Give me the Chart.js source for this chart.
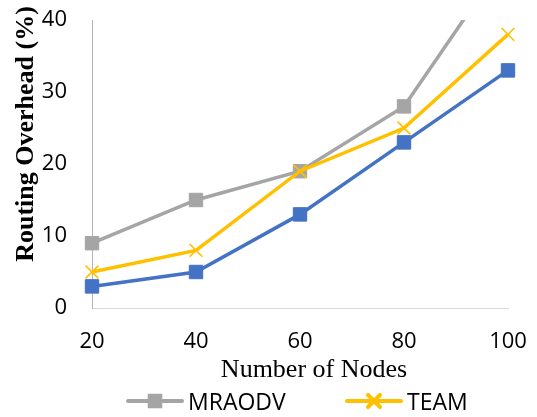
<!DOCTYPE html>
<html>
<head>
<meta charset="utf-8">
<script src="https://cdn.jsdelivr.net/npm/chart.js@4"></script>
<style>
  html, body { margin: 0; padding: 0; background: #ffffff; }
  #wrap { width: 537px; height: 417px; }
</style>
</head>
<body>
<div id="wrap"><canvas id="c" width="537" height="417"></canvas></div>
<script>
// Routing overhead (%) against network size
const nodeCounts = ['20', '40', '60', '80', '100'];
const mraodv   = [9, 15, 19, 28, 49];
const team     = [5, 8, 19, 25, 38];
const proposed = [3, 5, 13, 23, 33];
const yTickValues = [0, 10, 20, 30, 40];

const xTitle = 'Number of Nodes';
const yTitle = 'Routing Overhead (%)';

const GRAY = '#A5A5A5', GOLD = '#FFC000', BLUE = '#4472C4';
const SANS = '"Open Sans", "Noto Sans", sans-serif';
const SERIF = '"Liberation Serif", "Times New Roman", serif';

// Axis titles and the legend row are painted after the chart itself
const decorations = {
  id: 'decorations',
  afterDraw(chart) {
    const ctx = chart.ctx;
    ctx.save();
    ctx.fillStyle = '#000000';

    // y-axis title (rotated)
    ctx.save();
    ctx.translate(33, 134);
    ctx.rotate(-Math.PI / 2);
    ctx.font = 'bold 26px ' + SERIF;
    ctx.textAlign = 'center';
    ctx.textBaseline = 'alphabetic';
    ctx.fillText(yTitle, 0, 0);
    ctx.restore();

    // x-axis title
    ctx.font = '26px ' + SERIF;
    ctx.textAlign = 'center';
    ctx.textBaseline = 'alphabetic';
    ctx.fillText(xTitle, 314, 377);

    // legend: the first row holds two series
    const rowY = 401;
    const starts = [128, 347];
    [0, 1].forEach((di, k) => {
      const ds = chart.data.datasets[di];
      const x0 = starts[k];
      ctx.strokeStyle = ds.borderColor;
      ctx.lineWidth = 4;
      ctx.lineCap = 'round';
      ctx.beginPath();
      ctx.moveTo(x0, rowY);
      ctx.lineTo(x0 + 54, rowY);
      ctx.stroke();
      ctx.fillStyle = ds.pointBackgroundColor;
      ctx.strokeStyle = ds.pointBorderColor;
      Chart.helpers.drawPoint(ctx, {
        pointStyle: ds.pointStyle,
        radius: ds.pointStyle === 'rect' ? 7.5 : 8.5,
        rotation: 0,
        borderWidth: ds.pointBorderWidth
      }, x0 + 27, rowY);
      ctx.fillStyle = '#000000';
      ctx.font = '23px ' + SANS;
      ctx.textAlign = 'left';
      ctx.textBaseline = 'alphabetic';
      ctx.fillText(ds.label, x0 + 60, rowY + 9);
    });
    ctx.restore();
  }
};

function series(label, data, color, style, order) {
  return {
    label: label,
    data: data,
    borderColor: color,
    backgroundColor: color,
    borderWidth: 3.5,
    tension: 0,
    pointStyle: style,
    pointRadius: style === 'rect' ? 9.5 : 9,
    pointHoverRadius: style === 'rect' ? 9.5 : 9,
    pointBackgroundColor: color,
    pointBorderColor: color,
    pointBorderWidth: style === 'rect' ? 1 : 1.6,
    order: order,
    clip: { left: false, right: false, bottom: false, top: 0 }
  };
}

new Chart(document.getElementById('c'), {
  type: 'line',
  data: {
    labels: nodeCounts,
    datasets: [
      series('MRAODV', mraodv, GRAY, 'rect', 3),
      series('TEAM', team, GOLD, 'crossRot', 2),
      series('Proposed', proposed, BLUE, 'rect', 1)
    ]
  },
  options: {
    responsive: false,
    animation: false,
    layout: { padding: { left: 0, right: 29, top: 20, bottom: 0 } },
    plugins: {
      legend: { display: false },
      tooltip: { enabled: false },
      title: { display: false }
    },
    scales: {
      x: {
        offset: false,
        grid: { display: false, drawTicks: false },
        border: { display: true, color: '#D9D9D9', width: 1 },
        ticks: { color: '#000000', font: { family: SANS, size: 22 }, padding: 21, maxRotation: 0 },
        afterFit(scale) {
          scale.height = 109;
          scale.paddingLeft = 0;
          scale.paddingRight = 0;
        }
      },
      y: {
        min: 0,
        max: 40,
        afterBuildTicks(scale) { scale.ticks = yTickValues.map(v => ({ value: v })); },
        grid: { display: false, drawTicks: false },
        border: { display: true, color: '#B4B4B4', width: 1 },
        ticks: { color: '#000000', font: { family: SANS, size: 22 }, padding: 25 },
        afterFit(scale) {
          scale.width = 92;
          scale.paddingTop = 0;
          scale.paddingBottom = 0;
        }
      }
    }
  },
  plugins: [decorations]
});
</script>
</body>
</html>
